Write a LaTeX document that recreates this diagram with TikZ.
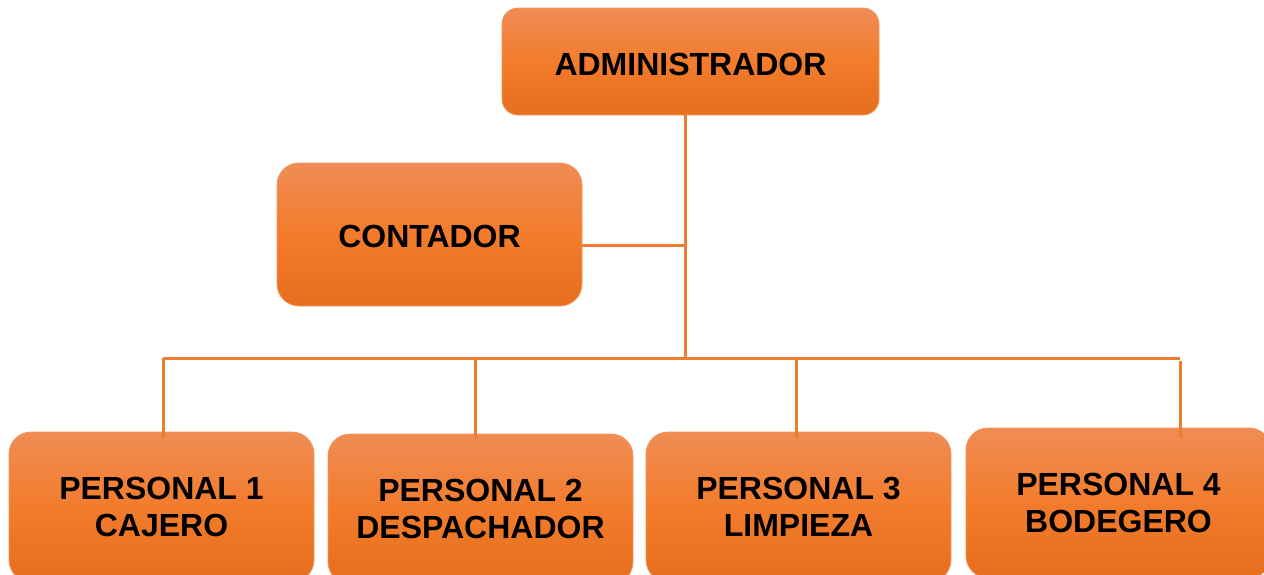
\documentclass[tikz,border=0pt]{standalone}
\usepackage{fontspec}
\setmainfont{Liberation Sans}
\definecolor{ortop}{RGB}{240,140,84}
\definecolor{ormid}{RGB}{242,124,44}
\definecolor{orbot}{RGB}{230,110,28}
\definecolor{boxedge}{RGB}{242,150,95}
\definecolor{lineor}{RGB}{237,125,49}
\tikzset{
  box/.style={rectangle, rounded corners=22pt, draw=boxedge, line width=0.8pt,
    top color=ortop, bottom color=orbot, middle color=ormid,
    font=\fontsize{32}{37}\selectfont\bfseries, align=center, inner sep=0pt, text=black},
  conn/.style={draw=lineor, line width=3pt}
}
\begin{document}
\begin{tikzpicture}[x=1pt,y=-1pt]
\useasboundingbox (0,0) rectangle (1264,574);
\clip (0,0) rectangle (1264,574);
\node[box, rounded corners=16pt, minimum width=377pt, minimum height=107pt, text height=28pt, text depth=0pt] (adm) at (690.5,61.5) {ADMINISTRADOR};
\node[box, minimum width=305pt, minimum height=143pt, text height=26pt, text depth=0pt] (cont) at (429.5,234.5) {CONTADOR};
\node[box, minimum width=305pt, minimum height=150pt] (p1) at (161.5,507) {PERSONAL 1\\CAJERO};
\node[box, minimum width=305pt, minimum height=150pt] (p2) at (480.5,509) {PERSONAL 2\\DESPACHADOR};
\node[box, minimum width=305pt, minimum height=150pt] (p3) at (798.5,507) {PERSONAL 3\\LIMPIEZA};
\node[box, minimum width=305pt, minimum height=150pt] (p4) at (1118.5,503) {PERSONAL 4\\BODEGERO};
\coordinate (j) at (685,358);
\coordinate (cj) at (685,245);
\coordinate (b1) at (163,358);
\coordinate (b2) at (475,358);
\coordinate (b3) at (796,358);
\coordinate (b4) at (1180,358);
\draw[conn] (adm.south -| j) -- (j);
\draw[conn] (cj -| cont.east) -- (cj);
\draw[conn] (b1) -- (b4);
\draw[conn] (b1) -- ([yshift=-6pt]b1 |- p1.north);
\draw[conn] (b2) -- ([yshift=-4pt]b2 |- p2.north);
\draw[conn] (b3) -- ([yshift=-6pt]b3 |- p3.north);
\draw[conn] ([yshift=-3pt]b4) -- ([yshift=-10pt]b4 |- p4.north);
\end{tikzpicture}
\end{document}
